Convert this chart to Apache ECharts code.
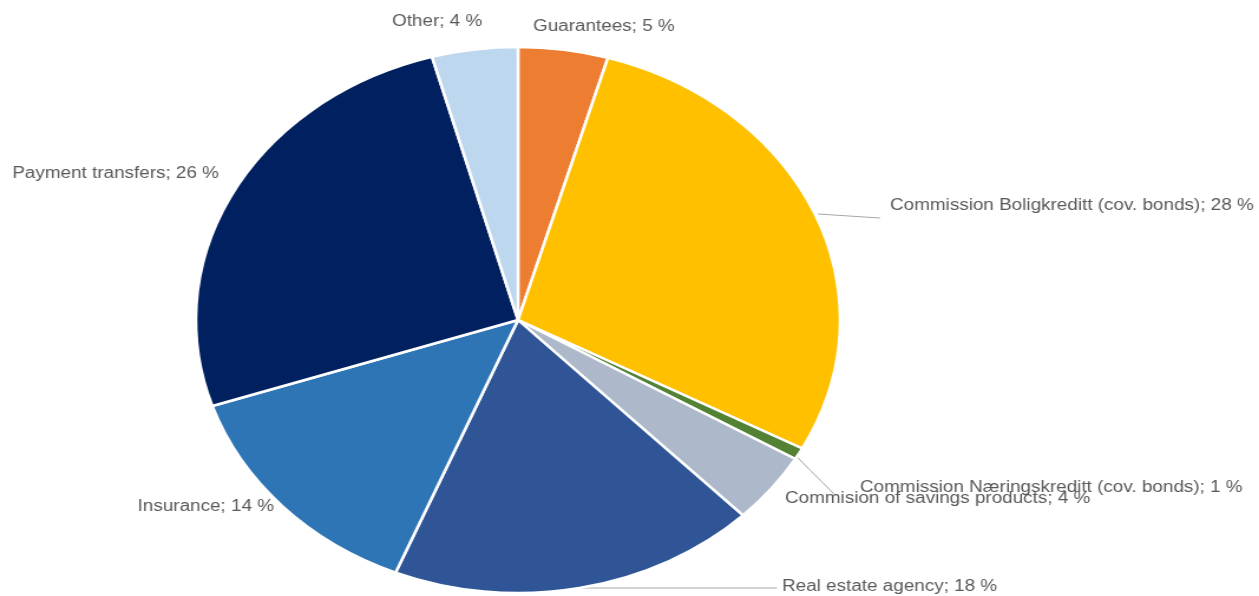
<!DOCTYPE html>
<html>
<head>
<meta charset="utf-8">
<script src="https://cdn.jsdelivr.net/npm/echarts@6/dist/echarts.min.js"></script>
<style>
html,body{margin:0;padding:0;background:#fff;overflow:hidden;}
#wrap{width:1259px;height:596px;overflow:hidden;}
#chart{height:596px;transform-origin:0 0;}
</style>
</head>
<body>
<div id="wrap"><div id="chart"></div></div>
<script>
const categories = ["Guarantees", "Commission Boligkreditt (cov. bonds)", "Commission Næringskreditt (cov. bonds)", "Commision of savings products", "Real estate agency", "Insurance", "Payment transfers", "Other"];
const values = [4.5, 28.3, 0.7, 4.2, 18.5, 13.7, 25.8, 4.3];
const labelPercents = [5, 28, 1, 4, 18, 14, 26, 4];
const colors = ["#ED7D31", "#FFC000", "#548235", "#ADB9CA", "#2F5597", "#2E75B6", "#002060", "#BDD7EE"];

const S = 1.18;               // horizontal stretch of the reference picture
const W0 = 1259 / S;
const el = document.getElementById('chart');
el.style.width = W0 + 'px';
el.style.transform = 'scaleX(' + S + ')';

// label anchors (unstretched px): [x, y, align]
const labelPos = [
  [533 / S, 27, 'left'],
  [890 / S, 206, 'left'],
  [860 / S, 488, 'left'],
  [785 / S, 499, 'left'],
  [782 / S, 587, 'left'],
  [274 / S, 507, 'right'],
  [219 / S, 174, 'right'],
  [392 / S, 22, 'left']
];
const linePts = {
  1: [[818 / S, 214], [880 / S, 218]],
  2: [[797 / S, 457], [836 / S, 496]],
  4: [[577 / S, 588], [777 / S, 588]]
};

const chart = echarts.init(el, null, {renderer: 'canvas'});
chart.setOption({
  animation: false,
  series: [{
    type: 'pie',
    center: [518 / S, 320],
    radius: 273,
    startAngle: 90,
    clockwise: true,
    avoidLabelOverlap: false,
    itemStyle: {borderColor: '#fff', borderWidth: 2.5},
    label: {
      show: true,
      position: 'outside',
      color: '#595959',
      fontFamily: 'Liberation Sans, Arial, sans-serif',
      fontSize: 16,
      formatter: p => p.name + '; ' + labelPercents[p.dataIndex] + ' %'
    },
    labelLine: {show: true, lineStyle: {color: '#A6A6A6', width: 1}},
    labelLayout: function (params) {
      const i = params.dataIndex;
      const lp = labelPos[i];
      const r = {x: lp[0], y: lp[1], align: lp[2], verticalAlign: 'middle'};
      if (linePts[i]) r.labelLinePoints = linePts[i];
      return r;
    },
    data: categories.map((c, i) => ({
      name: c,
      value: values[i],
      itemStyle: {color: colors[i]},
      labelLine: {show: !!linePts[i]}
    }))
  }]
});
</script>
</body>
</html>
